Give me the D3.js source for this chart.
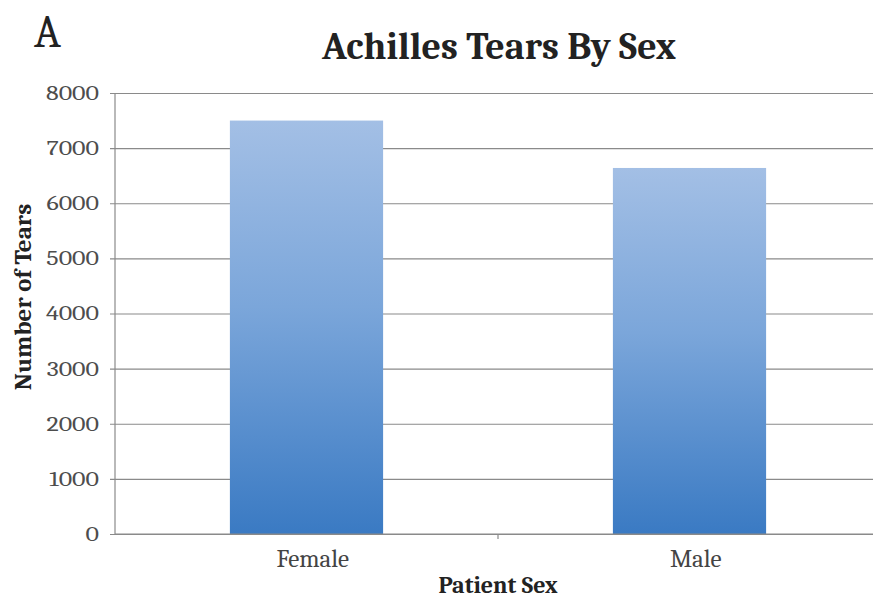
<!DOCTYPE html>
<html>
<head>
<meta charset="utf-8">
<script src="https://cdn.jsdelivr.net/npm/d3@7"></script>
<style>
  html, body { margin: 0; padding: 0; background: #fff; }
  svg { display: block; }
</style>
</head>
<body>
<script>
// Achilles tear counts by patient sex
const categories = ["Female", "Male"];
const tearCounts = [7500, 6640];
const yTicks = [0, 1000, 2000, 3000, 4000, 5000, 6000, 7000, 8000];

const W = 873, H = 598;
const margin = { left: 115, top: 93 };
const plotBottom = 534;
const serif = "Cambria, Caladea, 'Liberation Serif', 'DejaVu Serif', serif";

const svg = d3.select("body").append("svg")
  .attr("width", W).attr("height", H);

const x = d3.scaleBand()
  .domain(categories)
  .range([margin.left, margin.left + 766])
  .paddingInner(0.6)
  .paddingOuter(0.3);

const y = d3.scaleLinear()
  .domain([0, 8000])
  .range([plotBottom, margin.top]);

// vertical bar gradient, light at top to deeper blue at the base
const defs = svg.append("defs");
const grad = defs.append("linearGradient")
  .attr("id", "barFill")
  .attr("x1", 0).attr("y1", 0).attr("x2", 0).attr("y2", 1);
grad.append("stop").attr("offset", "0%").attr("stop-color", "#a3bfe5");
grad.append("stop").attr("offset", "45%").attr("stop-color", "#7ba6da");
grad.append("stop").attr("offset", "100%").attr("stop-color", "#3a7ac3");

// horizontal gridlines with value labels
const yAxis = d3.axisLeft(y)
  .tickValues(yTicks)
  .tickSize(-(W - margin.left))
  .tickFormat(d3.format("d"));

const gy = svg.append("g")
  .attr("transform", `translate(${margin.left},0)`)
  .call(yAxis);
gy.select(".domain").remove();
gy.selectAll(".tick line")
  .attr("x1", -5)
  .attr("stroke", "#8a8a8a")
  .attr("stroke-width", 1.2);
gy.selectAll(".tick text")
  .attr("x", 0)
  .attr("transform", "translate(-16,0) scale(1.3,1)")
  .attr("fill", "#4d4d4d")
  .style("font-family", serif)
  .style("font-size", "20px");

// left axis line
svg.append("line")
  .attr("x1", margin.left).attr("x2", margin.left)
  .attr("y1", y(8000)).attr("y2", plotBottom)
  .attr("stroke", "#8a8a8a").attr("stroke-width", 1.2);

// bars
svg.append("g").selectAll("rect")
  .data(categories)
  .join("rect")
  .attr("x", d => x(d))
  .attr("width", x.bandwidth())
  .attr("y", (d, i) => y(tearCounts[i]))
  .attr("height", (d, i) => plotBottom - y(tearCounts[i]))
  .attr("fill", "url(#barFill)");

// category axis
const xAxis = d3.axisBottom(x).tickSize(0).tickPadding(15);
const gx = svg.append("g")
  .attr("transform", `translate(0,${plotBottom})`)
  .call(xAxis);
gx.select(".domain").remove();
gx.selectAll(".tick text")
  .attr("fill", "#444")
  .attr("dx", "0.25em")
  .style("font-family", serif)
  .style("font-size", "25px");

svg.append("line")
  .attr("x1", margin.left).attr("x2", W)
  .attr("y1", plotBottom).attr("y2", plotBottom)
  .attr("stroke", "#8a8a8a").attr("stroke-width", 1.2);

// divider tick between the two categories
const mid = (x("Female") + x.bandwidth() + x("Male")) / 2;
svg.append("line")
  .attr("x1", mid).attr("x2", mid)
  .attr("y1", plotBottom).attr("y2", plotBottom + 5)
  .attr("stroke", "#8a8a8a").attr("stroke-width", 1.2);

// titles
svg.append("text")
  .attr("x", 499).attr("y", 59)
  .attr("text-anchor", "middle")
  .attr("fill", "#222")
  .style("font-family", serif)
  .style("font-weight", "bold")
  .style("font-size", "38px")
  .text("Achilles Tears By Sex");

svg.append("text")
  .attr("x", 34).attr("y", 47)
  .attr("fill", "#222")
  .style("font-family", serif)
  .style("font-size", "45px")
  .text("A");

svg.append("text")
  .attr("transform", `translate(31,297) rotate(-90)`)
  .attr("text-anchor", "middle")
  .attr("fill", "#222")
  .style("font-family", serif)
  .style("font-weight", "bold")
  .style("font-size", "25px")
  .text("Number of Tears");

svg.append("text")
  .attr("x", 498).attr("y", 593)
  .attr("text-anchor", "middle")
  .attr("fill", "#222")
  .style("font-family", serif)
  .style("font-weight", "bold")
  .style("font-size", "24px")
  .text("Patient Sex");
</script>
</body>
</html>
